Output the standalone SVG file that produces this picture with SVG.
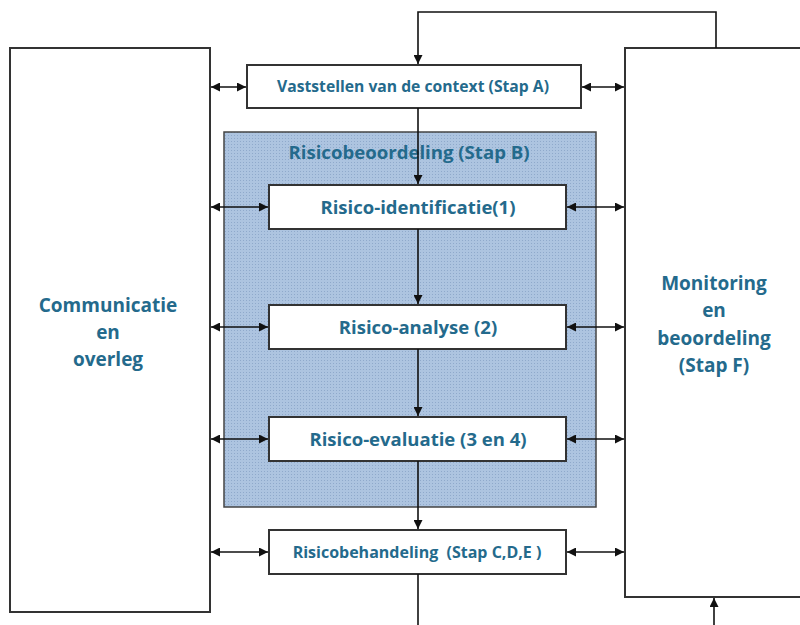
<svg xmlns="http://www.w3.org/2000/svg" width="800" height="625" viewBox="0 0 800 625">
<style>
.box{fill:#fff;stroke:#333;stroke-width:2}
.t{font-family:"Open Sans","Liberation Sans",sans-serif;font-weight:700;fill:#246a8c;text-anchor:middle}
.c{fill:none;stroke:#111;stroke-width:1.6}
</style>
<defs>
<marker id="ah" viewBox="0 0 10 10" refX="10" refY="5" markerWidth="9" markerHeight="9" markerUnits="userSpaceOnUse" orient="auto-start-reverse">
<path d="M0,0 L10,5 L0,10 z" fill="#111"/>
</marker>
<pattern id="dots" width="3" height="3" patternUnits="userSpaceOnUse">
<rect width="3" height="3" fill="#adc4e0"/>
<rect width="1" height="1" fill="#8fa9cb"/>
</pattern>
</defs>
<rect width="800" height="625" fill="#fff"/>
<g id="communicatie">
<rect class="box" x="10" y="48" width="200" height="564"/>
<text class="t" x="108" y="312" font-size="19">Communicatie</text>
<text class="t" x="108" y="339" font-size="19">en</text>
<text class="t" x="108" y="366" font-size="19">overleg</text>
</g>
<g id="monitoring">
<rect class="box" x="625" y="48" width="190" height="549"/>
<text class="t" x="714" y="290" font-size="19">Monitoring</text>
<text class="t" x="714" y="317" font-size="19">en</text>
<text class="t" x="714" y="345" font-size="19">beoordeling</text>
<text class="t" x="714" y="372" font-size="19">(Stap F)</text>
</g>
<g id="context">
<rect class="box" x="247" y="65" width="334" height="43"/>
<text class="t" x="413" y="92" font-size="15.7" font-weight="600">Vaststellen van de context (Stap A)</text>
</g>
<g id="risicobeoordeling">
<rect x="224" y="132" width="372" height="375" fill="url(#dots)" stroke="#444" stroke-width="1.5"/>
<text class="t" x="409" y="159" font-size="18.6" font-weight="600">Risicobeoordeling (Stap B)</text>
</g>
<g id="identificatie">
<rect class="box" x="269" y="185" width="297" height="44"/>
<text class="t" x="418" y="214" font-size="18.5">Risico-identificatie(1)</text>
</g>
<g id="analyse">
<rect class="box" x="269" y="305" width="297" height="44"/>
<text class="t" x="418" y="334" font-size="18.5">Risico-analyse (2)</text>
</g>
<g id="evaluatie">
<rect class="box" x="269" y="417" width="297" height="44"/>
<text class="t" x="418" y="446" font-size="18.5">Risico-evaluatie (3 en 4)</text>
</g>
<g id="behandeling">
<rect class="box" x="269" y="530" width="297" height="44"/>
<text class="t" x="417" y="558" font-size="16" font-weight="600" xml:space="preserve">Risicobehandeling  (Stap C,D,E )</text>
</g>
<g id="connectors">
<path class="c" d="M716,48 V12 H418 V64" marker-end="url(#ah)"/>
<path class="c" d="M418,108 V184" marker-end="url(#ah)"/>
<path class="c" d="M418,229 V304" marker-end="url(#ah)"/>
<path class="c" d="M418,349 V416" marker-end="url(#ah)"/>
<path class="c" d="M418,461 V529" marker-end="url(#ah)"/>
<path class="c" d="M418,574 V625"/>
<path class="c" d="M714,625 V598" marker-end="url(#ah)"/>
<path class="c" d="M211,87 H246" marker-start="url(#ah)" marker-end="url(#ah)"/>
<path class="c" d="M582,87 H624" marker-start="url(#ah)" marker-end="url(#ah)"/>
<path class="c" d="M211,207 H268" marker-start="url(#ah)" marker-end="url(#ah)"/>
<path class="c" d="M567,207 H624" marker-start="url(#ah)" marker-end="url(#ah)"/>
<path class="c" d="M211,327 H268" marker-start="url(#ah)" marker-end="url(#ah)"/>
<path class="c" d="M567,327 H624" marker-start="url(#ah)" marker-end="url(#ah)"/>
<path class="c" d="M211,439 H268" marker-start="url(#ah)" marker-end="url(#ah)"/>
<path class="c" d="M567,439 H624" marker-start="url(#ah)" marker-end="url(#ah)"/>
<path class="c" d="M211,552 H268" marker-start="url(#ah)" marker-end="url(#ah)"/>
<path class="c" d="M567,552 H624" marker-start="url(#ah)" marker-end="url(#ah)"/>
</g>
</svg>
